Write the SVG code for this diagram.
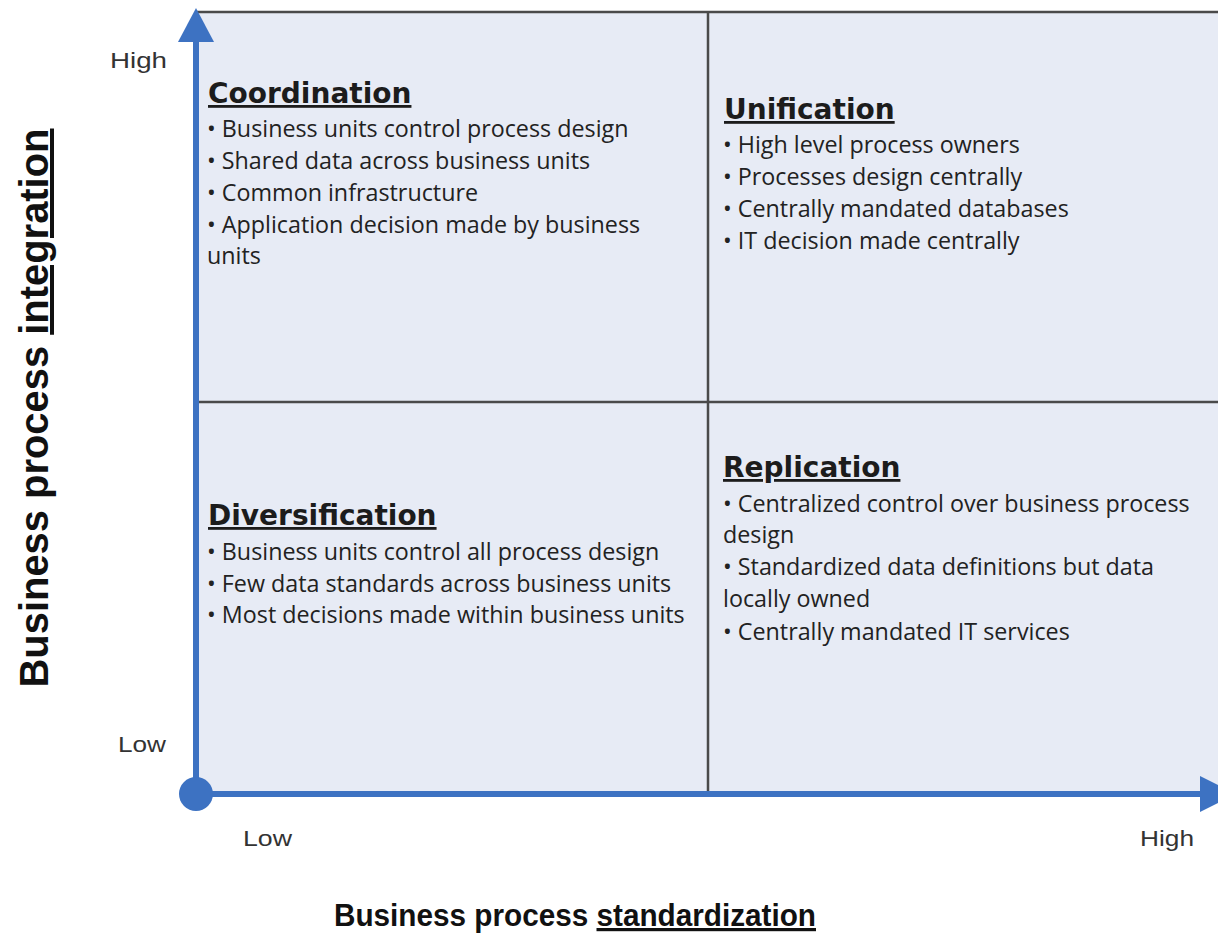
<svg xmlns="http://www.w3.org/2000/svg" width="1218" height="936" viewBox="0 0 1218 936">
<style>
.title{font-family:"DejaVu Sans",sans-serif;font-weight:bold;font-size:28px;fill:#1c1c1c;text-decoration:underline}
.item{font-family:"Open Sans",sans-serif;font-size:23.3px;fill:#222}
.tick{font-family:"Liberation Sans",sans-serif;font-size:22px;fill:#333}
.axt{font-family:"Liberation Sans",sans-serif;font-weight:bold;fill:#111}
.grid{stroke:#4a4a4a;stroke-width:2.5;fill:none}
.axis{stroke:#3d72c2;stroke-width:6;fill:none}
.head{fill:#3d72c2}
</style>
<rect x="0" y="0" width="1218" height="936" fill="#ffffff"/>
<g id="plane">
<rect x="196" y="12" width="1022" height="782" fill="#e7ebf5"/>
<line class="grid" x1="196" y1="12" x2="1218" y2="12" stroke="#6a6a6a"/>
<line class="grid" x1="708" y1="12" x2="708" y2="794"/>
<line class="grid" x1="196" y1="402" x2="1218" y2="402"/>
</g>
<g id="connectors">
<line class="axis" x1="196" y1="794" x2="196" y2="40"/>
<polygon class="head" points="196,8 178,42 214,42"/>
<line class="axis" x1="196" y1="794" x2="1202" y2="794"/>
<polygon class="head" points="1200,776 1236,794 1200,812"/>
<circle class="head" cx="196" cy="794" r="17"/>
</g>
<g id="coordination">
<text class="title" x="208" y="103">Coordination</text>
<text class="item" x="207" y="137">• Business units control process design</text>
<text class="item" x="207" y="169">• Shared data across business units</text>
<text class="item" x="207" y="201">• Common infrastructure</text>
<text class="item" x="207" y="233">• Application decision made by business</text>
<text class="item" x="207" y="264">units</text>
</g>
<g id="unification">
<text class="title" x="724" y="119">Unification</text>
<text class="item" x="723" y="153">• High level process owners</text>
<text class="item" x="723" y="185">• Processes design centrally</text>
<text class="item" x="723" y="217">• Centrally mandated databases</text>
<text class="item" x="723" y="249">• IT decision made centrally</text>
</g>
<g id="diversification">
<text class="title" x="208" y="525">Diversification</text>
<text class="item" x="207" y="560">• Business units control all process design</text>
<text class="item" x="207" y="592">• Few data standards across business units</text>
<text class="item" x="207" y="623">• Most decisions made within business units</text>
</g>
<g id="replication">
<text class="title" x="723" y="477">Replication</text>
<text class="item" x="723" y="512">• Centralized control over business process</text>
<text class="item" x="723" y="543">design</text>
<text class="item" x="723" y="575">• Standardized data definitions but data</text>
<text class="item" x="723" y="607">locally owned</text>
<text class="item" x="723" y="640">• Centrally mandated IT services</text>
</g>
<g id="ticks">
<text class="tick" x="110" y="68" textLength="57" lengthAdjust="spacingAndGlyphs">High</text>
<text class="tick" x="118" y="752" textLength="48" lengthAdjust="spacingAndGlyphs">Low</text>
<text class="tick" x="243" y="846" textLength="49" lengthAdjust="spacingAndGlyphs">Low</text>
<text class="tick" x="1140" y="846" textLength="54" lengthAdjust="spacingAndGlyphs">High</text>
</g>
<g id="axis-titles">
<text class="axt" font-size="40" transform="translate(48,408) rotate(-90)" text-anchor="middle" textLength="559" lengthAdjust="spacingAndGlyphs">Business process <tspan text-decoration="underline">integration</tspan></text>
<text class="axt" font-size="32" x="575" y="926" text-anchor="middle" textLength="482" lengthAdjust="spacingAndGlyphs">Business process <tspan text-decoration="underline">standardization</tspan></text>
</g>
</svg>
